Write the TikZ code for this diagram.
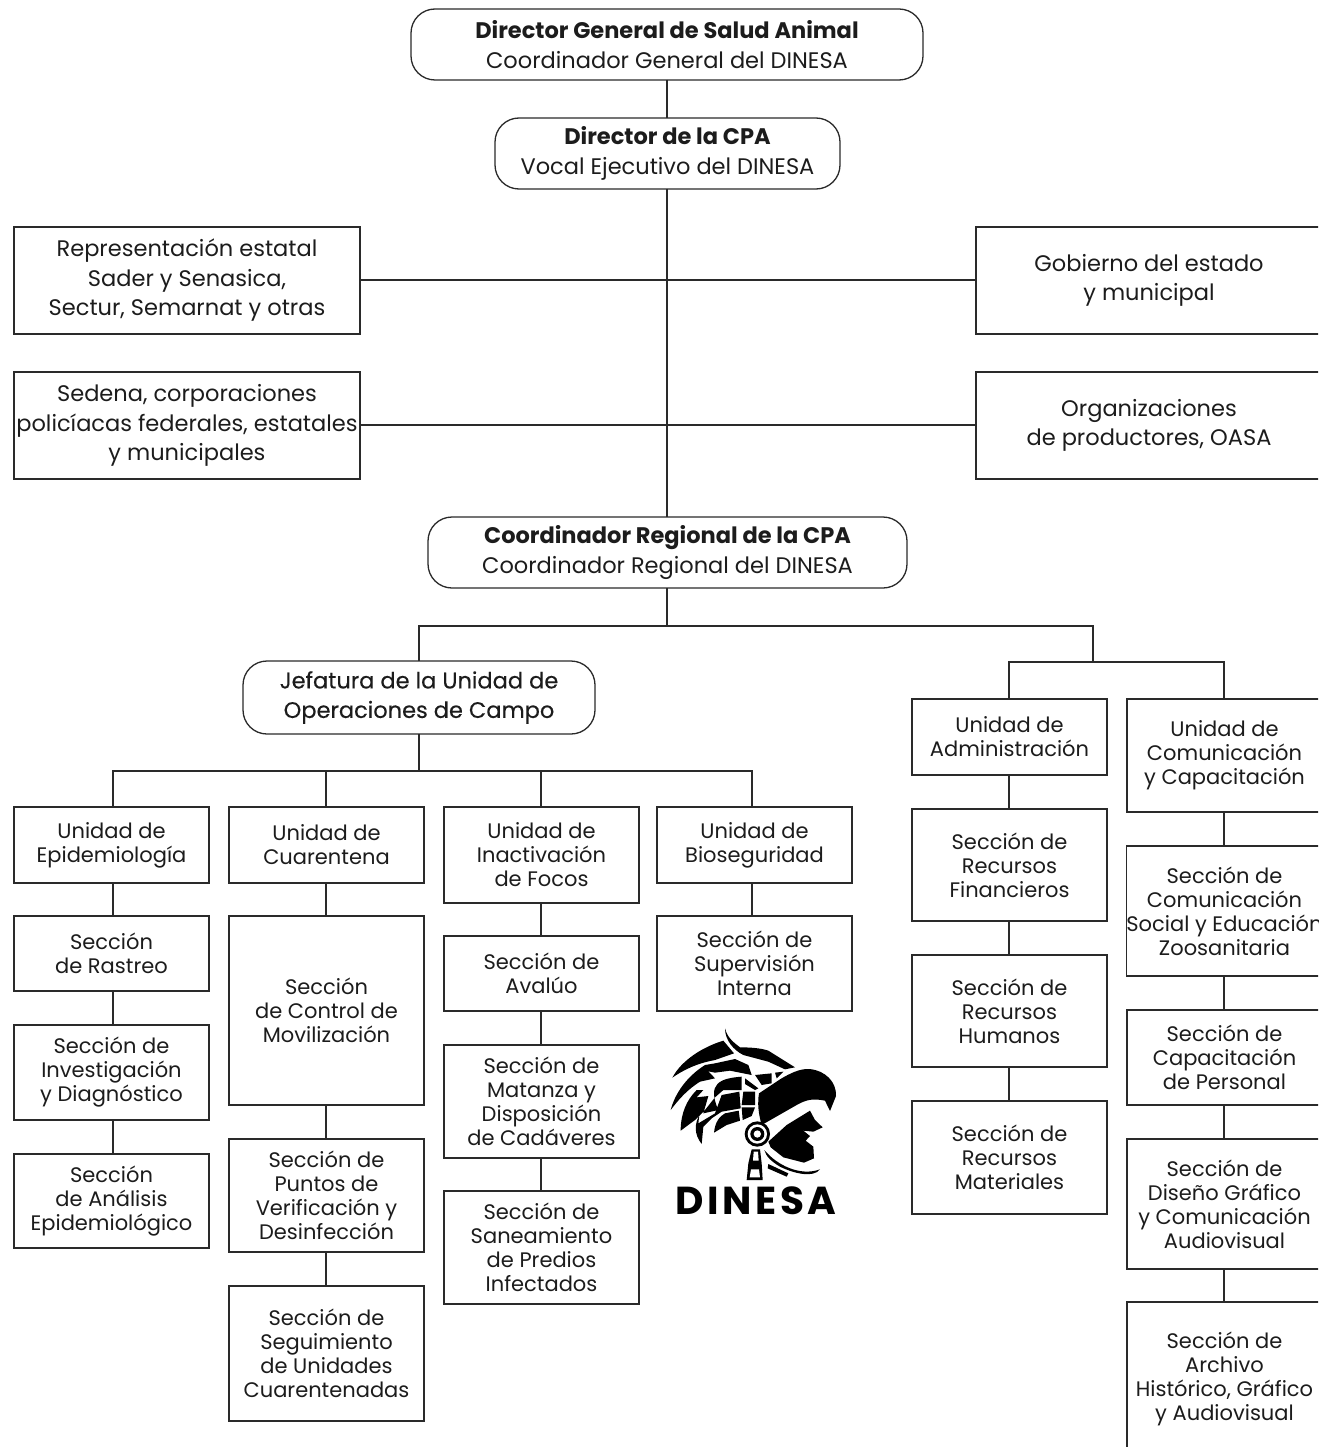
\documentclass[tikz,border=0pt]{standalone}
\usepackage{fontspec}
\setmainfont{Poppins}
\newfontfamily\logofont[LetterSpace=9]{Poppins}
\definecolor{ink}{HTML}{1C1C1C}
\definecolor{edge}{HTML}{2A2A2A}
\tikzset{
  box/.style={draw=edge,line width=1.3pt,text=ink,inner sep=0pt,outer sep=0pt,align=center,font=\fontsize{21}{24}\selectfont},
  bigbox/.style={box,font=\fontsize{22.5}{29.5}\selectfont},
  pill/.style={bigbox,rounded corners=24pt},
  wire/.style={draw=edge,line width=1.3pt},
  ink fill/.style={fill=black,draw=none},
}
\newcommand{\bx}[7][box]{%
  \node[#1,minimum width={(#5-#3)*1pt},minimum height={(#6-#4)*1pt}] (#2) at ({(#3+#5)/2},{(#4+#6)/2}) {#7};}
\begin{document}
\begin{tikzpicture}[x=1pt,y=-1pt]
\useasboundingbox (0,0) rectangle (1318,1447);
\fill[white] (0,0) rectangle (1318,1447);
\clip (0,0) rectangle (1318,1447);
% columns
\coordinate (cT) at (667,0);
\coordinate (cE) at (113,0);
\coordinate (cC) at (326,0);
\coordinate (cI) at (541,0);
\coordinate (cB) at (752,0);
\coordinate (cA) at (1009,0);
\coordinate (cM) at (1224,0);
\coordinate (cJ) at (419,0);
\coordinate (cR) at (1093,0);
% top
\bx[pill]{dg}{411}{9}{923}{80}{{\bfseries Director General de Salud Animal}\\Coordinador General del DINESA}
\bx[pill]{cpa}{495}{118}{840}{189}{{\bfseries Director de la CPA}\\Vocal Ejecutivo del DINESA}
\bx[bigbox]{l1}{14}{227}{360}{334}{Representación estatal\\Sader y Senasica,\\Sectur, Semarnat y otras}
\bx[bigbox]{l2}{14}{372}{360}{479}{Sedena, corporaciones\\policíacas federales, estatales\\y municipales}
\bx[bigbox]{r1}{976}{227}{1322}{334}{Gobierno del estado\\y municipal}
\bx[bigbox]{r2}{976}{372}{1322}{479}{Organizaciones\\de productores, OASA}
\bx[pill]{cr}{428}{517}{907}{588}{{\bfseries Coordinador Regional de la CPA}\\Coordinador Regional del DINESA}
\bx[pill]{jf}{243}{661}{595}{734}{\addfontfeature{FakeBold=0.25}Jefatura de la Unidad de\\\addfontfeature{FakeBold=0.25}Operaciones de Campo}
% column 1
\bx{ue}{14}{807}{209}{883}{Unidad de\\Epidemiología}
\bx{sr}{14}{916}{209}{991}{Sección\\de Rastreo}
\bx{si}{14}{1025}{209}{1120}{Sección de\\Investigación\\y Diagnóstico}
\bx{sa}{14}{1154}{209}{1248}{Sección\\de Análisis\\Epidemiológico}
% column 2
\bx{uc}{229}{807}{424}{883}{Unidad de\\Cuarentena}
\bx{sc}{229}{916}{424}{1105}{Sección\\de Control de\\Movilización}
\bx{sp}{229}{1139}{424}{1252}{Sección de\\Puntos de\\Verificación y\\Desinfección}
\bx{ss}{229}{1286}{424}{1421}{Sección de\\Seguimiento\\de Unidades\\Cuarentenadas}
% column 3
\bx{ui}{444}{807}{639}{903}{Unidad de\\Inactivación\\de Focos}
\bx{sv}{444}{936}{639}{1011}{Sección de\\Avalúo}
\bx{sm}{444}{1045}{639}{1158}{Sección de\\Matanza y\\Disposición\\de Cadáveres}
\bx{sn}{444}{1191}{639}{1304}{Sección de\\Saneamiento\\de Predios\\Infectados}
% column 4
\bx{ub}{657}{807}{852}{883}{Unidad de\\Bioseguridad}
\bx{su}{657}{916}{852}{1011}{Sección de\\Supervisión\\Interna}
% column 5
\bx{ua}{912}{699}{1107}{775}{Unidad de\\Administración}
\bx{rf}{912}{809}{1107}{921}{Sección de\\Recursos\\Financieros}
\bx{rh}{912}{955}{1107}{1067}{Sección de\\Recursos\\Humanos}
\bx{rm}{912}{1101}{1107}{1214}{Sección de\\Recursos\\Materiales}
% column 6
\bx{um}{1127}{699}{1322}{812}{Unidad de\\Comunicación\\y Capacitación}
\bx{cs}{1127}{846}{1322}{976}{Sección de\\Comunicación\\Social y Educación\\Zoosanitaria}
\bx{cp}{1127}{1010}{1322}{1105}{Sección de\\Capacitación\\de Personal}
\bx{dz}{1127}{1139}{1322}{1269}{Sección de\\Diseño Gráfico\\y Comunicación\\Audiovisual}
\bx{ar}{1127}{1302}{1322}{1456}{Sección de\\Archivo\\Histórico, Gráfico\\y Audiovisual}
% connectors
\coordinate (b1) at (0,626);
\coordinate (b2) at (0,662);
\coordinate (b3) at (0,771);
\path[wire] (cT |- dg.south) -- (cT |- cpa.north);
\path[wire] (cT |- cpa.south) -- (cT |- cr.north);
\path[wire] (l1.east |- 0,280) -- (r1.west |- 0,280);
\path[wire] (l2.east |- 0,425) -- (r2.west |- 0,425);
\path[wire] (cT |- cr.south) -- (cT |- b1);
\path[wire] (cJ |- jf.north) -- (cJ |- b1) -- (cR |- b1) -- (cR |- b2);
\path[wire] (cA |- ua.north) -- (cA |- b2) -- (cM |- b2) -- (cM |- um.north);
\path[wire] (cJ |- jf.south) -- (cJ |- b3);
\path[wire] (cE |- ue.north) -- (cE |- b3) -- (cB |- b3) -- (cB |- ub.north);
\path[wire] (cC |- b3) -- (cC |- uc.north);
\path[wire] (cI |- b3) -- (cI |- ui.north);
\path[wire] (cE |- ue.south) -- (cE |- sr.north);
\path[wire] (cE |- sr.south) -- (cE |- si.north);
\path[wire] (cE |- si.south) -- (cE |- sa.north);
\path[wire] (cC |- uc.south) -- (cC |- sc.north);
\path[wire] (cC |- sc.south) -- (cC |- sp.north);
\path[wire] (cC |- sp.south) -- (cC |- ss.north);
\path[wire] (cI |- ui.south) -- (cI |- sv.north);
\path[wire] (cI |- sv.south) -- (cI |- sm.north);
\path[wire] (cI |- sm.south) -- (cI |- sn.north);
\path[wire] (cB |- ub.south) -- (cB |- su.north);
\path[wire] (cA |- ua.south) -- (cA |- rf.north);
\path[wire] (cA |- rf.south) -- (cA |- rh.north);
\path[wire] (cA |- rh.south) -- (cA |- rm.north);
\path[wire] (cM |- um.south) -- (cM |- cs.north);
\path[wire] (cM |- cs.south) -- (cM |- cp.north);
\path[wire] (cM |- cp.south) -- (cM |- dz.north);
\path[wire] (cM |- dz.south) -- (cM |- ar.north);
% logo
\begin{scope}[shift={(640,1010)},x=0.33333pt,y=-0.33333pt]
% crest
\fill (255,55) .. controls (262,85) and (285,100) .. (300,112) .. controls (335,112) and (365,115) .. (385,122) -- (465,172) -- (435,178) -- (385,155) -- (310,135) .. controls (280,120) and (255,90) .. (255,55) -- cycle;
% upper feather
\fill (97,203) .. controls (125,150) and (190,110) .. (250,92) -- (282,130) -- (225,150) .. controls (170,160) and (130,180) .. (97,203) -- cycle;
% second feather
\fill (92,300) .. controls (105,250) and (140,200) .. (195,165) -- (225,160) -- (285,147) -- (325,165) -- (335,195) -- (270,182) -- (225,188) -- (205,184) -- (225,205) -- (180,215) .. controls (140,240) and (115,270) .. (92,300) -- cycle;
% third feather
\fill (122,362) .. controls (122,310) and (140,270) .. (170,240) -- (190,240) -- (170,262) -- (205,258) -- (190,310) -- (235,300) .. controls (200,220) and (240,205) .. (305,200) -- (305,240) -- (250,240) -- (225,262) -- (195,300) -- (165,330) -- cycle;
\fill (185,402) .. controls (160,370) and (165,340) .. (178,315) -- (175,340) -- (225,310) -- (245,255) -- (298,245) -- (302,295) -- (245,305) -- (215,325) -- (190,350) -- cycle;
\fill (222,368) .. controls (225,335) and (240,318) .. (255,310) -- (296,302) -- (300,332) -- (260,345) -- cycle;
% segment blocks
\fill (315,205) -- (355,235) -- (345,240) -- (315,222) -- cycle;
\fill (345,195) -- (395,190) -- (395,220) -- (365,225) -- cycle;
\fill (405,188) -- (430,185) -- (410,205) -- cycle;
\fill (310,245) -- (345,245) -- (345,285) -- (305,285) -- cycle;
\fill (305,292) -- (345,292) -- (335,318) -- (308,330) -- cycle;
% helmet
\fill (357,250) -- (420,208) .. controls (450,190) and (480,175) .. (510,177) .. controls (555,182) and (590,215) .. (588,258) -- (570,303) -- (555,272) .. controls (520,265) and (500,268) .. (470,285) -- (365,345) .. controls (355,310) and (352,280) .. (357,250) -- cycle;
% face
\fill (385,395) -- (440,345) -- (510,302) -- (525,330) -- (548,352) -- (520,365) -- (490,362) -- (510,378) -- (497,392) -- (520,410) -- (522,445) -- (492,458) -- (430,442) -- (392,412) -- cycle;
% ring
\fill (352,372) circle[radius=38];
\fill[white] (352,372) circle[radius=29];
\fill (352,372) circle[radius=21];
\fill[white] (352,372) circle[radius=11];
% pendant
\fill (335,418) -- (360,418) -- (365,460) -- (368,510) -- (320,510) -- (325,460) -- cycle;
\fill[white] (341,425) -- (354,425) -- (356,452) -- (339,452) -- cycle;
\fill[white] (333,478) -- (357,478) -- (360,502) -- (329,502) -- cycle;
% neck lines
\fill (373,420) .. controls (410,465) and (480,500) .. (540,478) .. controls (520,505) and (460,490) .. (420,470) .. controls (395,455) and (378,440) .. (373,420) -- cycle;
\fill (385,462) -- (445,490) -- (440,500) -- (383,475) -- cycle;
\end{scope}
\node[anchor=base,inner sep=0pt,text=black,font=\logofont\bfseries\fontsize{39}{39}\selectfont] (logo) at (756,1214) {DINESA};
\end{tikzpicture}
\end{document}
